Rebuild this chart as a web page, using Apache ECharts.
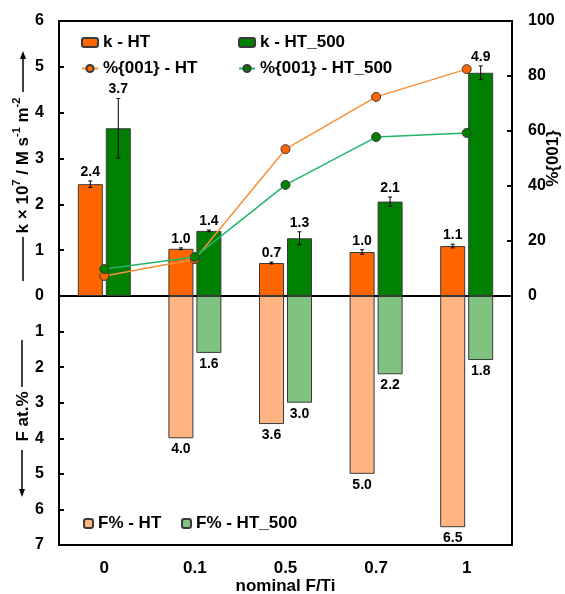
<!DOCTYPE html>
<html>
<head>
<meta charset="utf-8">
<script src="https://cdn.jsdelivr.net/npm/echarts@6/dist/echarts.min.js"></script>
<style>
    html, body {margin: 0; padding: 0; background: #fff;}
    #main {width: 565px; height: 594px;}
</style>
</head>
<body>
<div id="main"></div>
<script>
'use strict';

//数据
const categories = ['0', '0.1', '0.5', '0.7', '1'];
const kHT = [2.44, 1.03, 0.72, 0.96, 1.09];
const kHTErr = [0.07, 0.02, 0.02, 0.05, 0.04];
const kHT500 = [3.66, 1.42, 1.26, 2.06, 4.87];
const kHT500Err = [0.65, 0.02, 0.14, 0.10, 0.15];
const p001HT = [7.3, 13.4, 53.4, 72.4, 82.5];
const p001HT500 = [9.8, 14.2, 40.4, 57.8, 59.3];
const fHT = [null, 4.0, 3.6, 5.0, 6.5];
const fHT500 = [null, 1.6, 3.0, 2.2, 1.8];
const kTicks = [0, 6, 1];
const pTicks = [0, 100, 20];
const fTicks = [0, 7, 1];

const FONT = '"Liberation Sans", Arial, sans-serif';
const BAR_W = 25;
const BAR_GAP = 3;
const OFFSET = (BAR_W + BAR_GAP) / 2;

let myChart = echarts.init(document.getElementById('main'));

//误差线 + 数值标签
function errorBar(offset) {
    return function (params, api) {
        let i = api.value(0), v = api.value(1), e = api.value(2);
        let hi = api.coord([i, v + e]);
        let lo = api.coord([i, v - e]);
        let x = hi[0] + offset;
        let st = {stroke: '#000', lineWidth: 1};
        return {
            type: 'group',
            children: [
                {type: 'line', shape: {x1: x, y1: hi[1], x2: x, y2: lo[1]}, style: st},
                {type: 'line', shape: {x1: x - 2, y1: hi[1], x2: x + 2, y2: hi[1]}, style: st},
                {type: 'line', shape: {x1: x - 2, y1: lo[1], x2: x + 2, y2: lo[1]}, style: st},
                {
                    type: 'text', x: x, y: hi[1] - 2,
                    style: {
                        text: v.toFixed(1), textAlign: 'center', textVerticalAlign: 'bottom',
                        font: 'bold 14px ' + FONT, fill: '#000'
                    }
                }
            ]
        };
    };
}

const tickStyle = {show: true, inside: true, length: 5, lineStyle: {color: '#000', width: 2}};
const labelStyle = {color: '#000', fontSize: 16, fontWeight: 'bold', fontFamily: FONT};
const legendText = {color: '#000', fontSize: 17, fontWeight: 'bold', fontFamily: FONT};

function legend(name, left, top, w, h) {
    return {
        data: [name], left: left, top: top, padding: 0,
        itemWidth: w, itemHeight: h, textStyle: legendText
    };
}

let option = {
    animation: false,
    backgroundColor: '#fff',
    grid: [
        {left: 59, right: 53, top: 21, bottom: 298, show: true, borderColor: '#000', borderWidth: 2, outerBoundsMode: 'none'},
        {left: 59, right: 53, top: 296, bottom: 49, show: true, borderColor: '#000', borderWidth: 2, outerBoundsMode: 'none'}
    ],
    legend: [
        legend('k - HT', 81, 34, 16, 9),
        legend('k - HT_500', 238, 34, 16, 9),
        legend('%{001} - HT', 81, 60, 16, 9),
        legend('%{001} - HT_500', 238, 60, 16, 9),
        legend('F% - HT', 83, 515, 9, 9),
        legend('F% - HT_500', 181, 515, 9, 9)
    ],
    xAxis: [
        {
            gridIndex: 0, type: 'category', data: categories,
            axisLine: {show: false}, axisTick: {show: false}, axisLabel: {show: false}
        },
        {
            gridIndex: 1, type: 'category', data: categories, position: 'bottom',
            axisLine: {show: false}, axisTick: {show: false},
            axisLabel: Object.assign({margin: 15}, labelStyle, {fontSize: 17}),
            name: 'nominal F/Ti', nameLocation: 'middle', nameGap: 33, nameMoveOverlap: false,
            nameTextStyle: Object.assign({}, labelStyle, {fontSize: 17})
        }
    ],
    yAxis: [
        {
            gridIndex: 0, type: 'value', position: 'left',
            min: kTicks[0], max: kTicks[1], interval: kTicks[2],
            axisLine: {show: false}, axisTick: tickStyle, splitLine: {show: false},
            axisLabel: Object.assign({margin: 15}, labelStyle),
            name: '{t|k × 10}{s|7}{t| / M s}{s|-1}{t| m}{s|-2}',
            nameLocation: 'middle', nameRotate: 90, nameGap: 24, nameMoveOverlap: false,
            nameTextStyle: {
                padding: [0, 14, 0, 0],
                rich: {
                    t: {fontSize: 17, fontWeight: 'bold', fontFamily: FONT, color: '#000', lineHeight: 24},
                    s: {fontSize: 11, fontWeight: 'bold', fontFamily: FONT, color: '#000', lineHeight: 12, verticalAlign: 'top'}
                }
            }
        },
        {
            gridIndex: 0, type: 'value', position: 'right',
            min: pTicks[0], max: pTicks[1], interval: pTicks[2],
            axisLine: {show: false}, axisTick: tickStyle, splitLine: {show: false},
            axisLabel: Object.assign({margin: 16}, labelStyle),
            name: '%{001}', nameLocation: 'middle', nameRotate: 90, nameGap: 33, nameMoveOverlap: false,
            nameTextStyle: Object.assign({}, labelStyle, {fontSize: 17})
        },
        {
            gridIndex: 1, type: 'value', position: 'left', inverse: true,
            min: fTicks[0], max: fTicks[1], interval: fTicks[2],
            axisLine: {show: false}, axisTick: tickStyle, splitLine: {show: false},
            axisLabel: Object.assign({margin: 15, showMinLabel: false}, labelStyle),
            name: 'F at.%', nameLocation: 'middle', nameRotate: 90, nameGap: 24, nameMoveOverlap: false,
            nameTextStyle: Object.assign({lineHeight: 24, padding: [0, 0, 0, 8]}, labelStyle, {fontSize: 17})
        }
    ],
    series: [
        {
            name: 'k - HT', type: 'bar', xAxisIndex: 0, yAxisIndex: 0, data: kHT,
            barWidth: BAR_W, barGap: (BAR_GAP / BAR_W * 100) + '%',
            itemStyle: {color: '#FF6600', borderColor: '#3a3a3a', borderWidth: 1}
        },
        {
            name: 'k - HT_500', type: 'bar', xAxisIndex: 0, yAxisIndex: 0, data: kHT500,
            barWidth: BAR_W,
            itemStyle: {color: '#008000', borderColor: '#3a3a3a', borderWidth: 1}
        },
        {
            type: 'custom', xAxisIndex: 0, yAxisIndex: 0, z: 4,
            renderItem: errorBar(-OFFSET),
            data: kHT.map((v, i) => [i, v, kHTErr[i]])
        },
        {
            type: 'custom', xAxisIndex: 0, yAxisIndex: 0, z: 4,
            renderItem: errorBar(OFFSET),
            data: kHT500.map((v, i) => [i, v, kHT500Err[i]])
        },
        {
            name: '%{001} - HT', type: 'line', xAxisIndex: 0, yAxisIndex: 1, data: p001HT, z: 5,
            symbol: 'circle', symbolSize: 9,
            lineStyle: {color: '#F7913A', width: 1.5},
            itemStyle: {color: '#FF6600', borderColor: '#3a3a3a', borderWidth: 1}
        },
        {
            name: '%{001} - HT_500', type: 'line', xAxisIndex: 0, yAxisIndex: 1, data: p001HT500, z: 5,
            symbol: 'circle', symbolSize: 9,
            lineStyle: {color: '#22B56A', width: 1.5},
            itemStyle: {color: '#008000', borderColor: '#3a3a3a', borderWidth: 1}
        },
        {
            name: 'F% - HT', type: 'bar', xAxisIndex: 1, yAxisIndex: 2, data: fHT,
            barWidth: BAR_W, barGap: (BAR_GAP / BAR_W * 100) + '%',
            itemStyle: {color: '#FFB482', borderColor: '#3a3a3a', borderWidth: 1},
            label: {
                show: true, position: 'bottom', distance: 4,
                formatter: p => p.value.toFixed(1),
                color: '#000', fontSize: 14, fontWeight: 'bold', fontFamily: FONT
            }
        },
        {
            name: 'F% - HT_500', type: 'bar', xAxisIndex: 1, yAxisIndex: 2, data: fHT500,
            barWidth: BAR_W,
            itemStyle: {color: '#80C280', borderColor: '#3a3a3a', borderWidth: 1},
            label: {
                show: true, position: 'bottom', distance: 4,
                formatter: p => p.value.toFixed(1),
                color: '#000', fontSize: 14, fontWeight: 'bold', fontFamily: FONT
            }
        }
    ],
    //轴标题两边的箭头线
    graphic: [
        {type: 'line', shape: {x1: 23, y1: 237, x2: 23, y2: 281}, style: {stroke: '#000', lineWidth: 1.5}},
        {type: 'line', shape: {x1: 23, y1: 58, x2: 23, y2: 92}, style: {stroke: '#000', lineWidth: 1.5}},
        {type: 'polygon', shape: {points: [[20, 59], [26, 59], [23, 51]]}, style: {fill: '#000'}},
        {type: 'line', shape: {x1: 22, y1: 340, x2: 22, y2: 387}, style: {stroke: '#000', lineWidth: 1.5}},
        {type: 'line', shape: {x1: 22, y1: 450, x2: 22, y2: 490}, style: {stroke: '#000', lineWidth: 1.5}},
        {type: 'polygon', shape: {points: [[19, 489], [25, 489], [22, 497]]}, style: {fill: '#000'}}
    ]
};

myChart.setOption(option);
</script>
</body>
</html>
